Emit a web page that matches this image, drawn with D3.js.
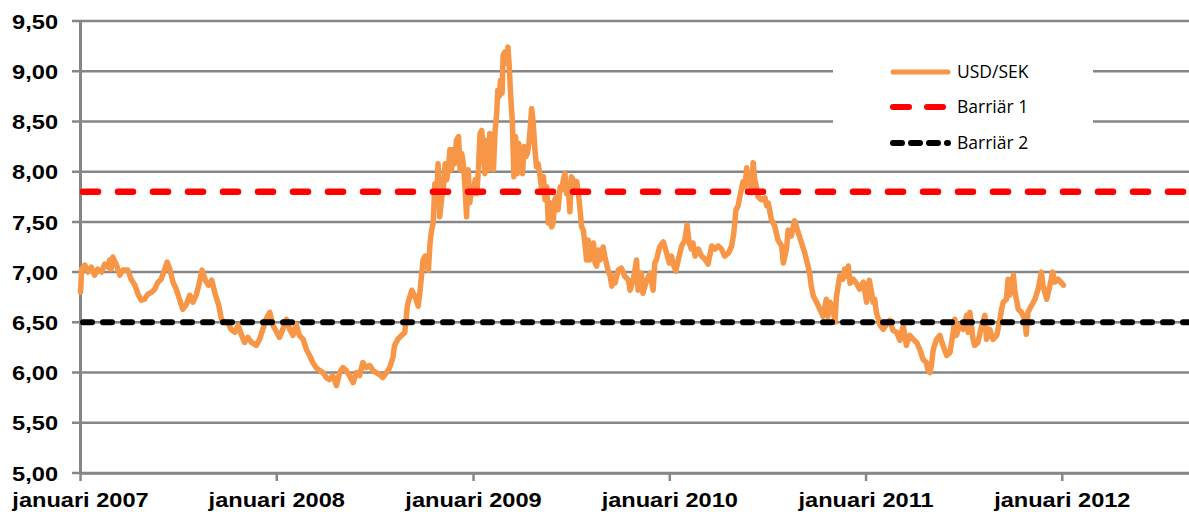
<!DOCTYPE html>
<html>
<head>
<meta charset="utf-8">
<script src="https://cdn.jsdelivr.net/npm/d3@7"></script>
<style>
  body { margin: 0; background: #fff; }
  svg { display: block; }
</style>
</head>
<body>
<svg width="1189" height="512"></svg>
<script>
const width = 1189;
const height = 512;

//--------------------data--------------------
const startDate = new Date(2007, 0, 1);
const endDate = new Date(2012, 8, 1);

// days after 2007-01-01
const dayOffsets = [
    1, 3, 9, 15, 21, 27, 33, 40, 46, 52, 55, 58, 61, 68, 74, 80, 89, 95, 102, 108, 114, 120, 126, 133, 139, 145,
    151, 157, 162, 167, 173, 179, 185, 191, 198, 204, 210, 216, 221, 227, 233, 239, 245, 252, 258, 263, 269, 275,
    281, 288, 294, 300, 306, 312, 319, 328, 334, 340, 346, 353, 359, 366, 371, 377, 384, 390, 396, 402, 408, 415,
    421, 427, 433, 439, 446, 452, 458, 464, 470, 477, 483, 489, 495, 501, 508, 514, 520, 526, 532, 539, 545, 551,
    557, 563, 570, 576, 582, 585, 591, 598, 604, 609,
    617, 623, 629, 632, 638, 642, 645, 648, 651, 654, 657, 660, 663, 666, 669, 673, 676, 679, 682, 685, 688, 691,
    694, 697, 700, 704, 707, 710, 713, 716, 719, 722, 725, 728, 731, 735, 738, 741, 744, 747, 750, 753, 756, 759,
    762, 766, 769, 772, 775, 777, 780, 782, 785, 787, 790, 793, 796, 798, 801, 804, 807, 810, 813, 816, 819, 823,
    826, 829, 832, 835, 838, 840, 843, 846, 849, 852, 855, 858, 862, 865, 868, 871, 874, 877, 880, 883, 886, 889,
    893, 896, 899, 902, 905, 908, 911, 914, 917, 920, 924, 927, 930, 933, 936, 939, 942, 945, 948, 951, 955, 958,
    961, 964, 967, 970, 973, 976, 979, 982, 986, 989, 992, 995, 1001, 1007, 1013, 1020, 1023, 1029, 1035, 1038,
    1041, 1044, 1047, 1054, 1060, 1066, 1069, 1072, 1078, 1085, 1091, 1096,
    1100, 1103, 1108, 1113, 1119, 1125, 1129, 1133, 1137, 1140, 1144, 1150, 1156, 1162, 1168, 1175, 1181, 1187,
    1193, 1199, 1206, 1212, 1216, 1220, 1224, 1227, 1230, 1233, 1237, 1240, 1243, 1246, 1249, 1252, 1255, 1258,
    1261, 1267, 1274, 1277, 1280, 1286, 1292, 1298, 1305, 1308, 1314, 1317, 1323, 1329, 1336, 1342, 1348, 1354,
    1357, 1360, 1364, 1370, 1376, 1382, 1388, 1391, 1395, 1401, 1404, 1407, 1413, 1419, 1422, 1426, 1429, 1432,
    1438, 1444, 1450,
    1457, 1463, 1468, 1472, 1475, 1478, 1481, 1485, 1488, 1494, 1500, 1506, 1512, 1519, 1525, 1531, 1537, 1543,
    1550, 1556, 1562, 1568, 1574, 1577, 1581, 1584, 1587, 1593, 1599, 1605, 1612, 1618, 1624, 1627, 1630, 1636,
    1643, 1649, 1652, 1655, 1661, 1664, 1670, 1677, 1683, 1686, 1692, 1698, 1705, 1711, 1714, 1717, 1723, 1726,
    1729, 1736, 1739, 1745, 1751, 1757, 1760, 1763, 1770, 1776, 1782, 1788, 1791, 1798, 1804, 1809, 1813, 1819,
    1829
];

const usdSek = [
    6.80, 7.03, 7.07, 7.00, 7.05, 6.97, 7.03, 7.00, 7.08, 7.05, 7.12, 7.03, 7.15, 7.07, 6.97, 7.02, 7.02, 6.93, 6.87, 6.78, 6.72, 6.73, 6.78, 6.80, 6.83, 6.90,
    6.93, 7.02, 7.10, 7.03, 6.90, 6.83, 6.73, 6.63, 6.68, 6.77, 6.70, 6.77, 6.87, 7.02, 6.92, 6.87, 6.92, 6.77, 6.67, 6.53, 6.50, 6.50,
    6.43, 6.40, 6.47, 6.38, 6.30, 6.35, 6.30, 6.27, 6.33, 6.43, 6.53, 6.60, 6.47, 6.40, 6.35, 6.43, 6.53, 6.43, 6.37, 6.48, 6.37, 6.33,
    6.23, 6.17, 6.10, 6.05, 6.02, 6.00, 5.95, 5.93, 5.97, 5.87, 6.00, 6.05, 6.02, 5.97, 5.90, 6.00, 5.97, 6.10, 6.05, 6.07, 6.02, 6.00,
    5.98, 5.95, 6.00, 6.05, 6.15, 6.27, 6.33, 6.37, 6.40, 6.67,
    6.82, 6.76, 6.66, 6.79, 7.12, 7.16, 7.06, 7.02, 7.29, 7.42, 7.49, 7.88, 7.69, 8.08, 7.55, 7.75, 7.85, 8.08, 7.92, 8.02, 8.22, 8.02,
    8.22, 8.08, 8.31, 8.35, 8.02, 8.18, 8.08, 7.85, 7.55, 8.02, 7.69, 7.85, 7.78, 7.92, 7.78, 8.02, 8.38, 8.41, 8.25, 7.98, 8.31, 8.02,
    8.38, 8.31, 8.02, 8.41, 8.58, 8.81, 8.75, 8.91, 8.78, 9.16, 9.19, 9.08, 9.24, 9.08, 8.75, 8.51, 7.95, 8.35, 7.98, 8.28, 8.15, 7.98,
    8.25, 8.15, 8.18, 8.28, 8.48, 8.63, 8.48, 8.22, 8.05, 8.08, 7.98, 7.85, 7.95, 7.72, 7.85, 7.49, 7.69, 7.45, 7.49, 7.72, 7.75, 7.62,
    7.85, 7.82, 7.92, 7.98, 7.78, 7.85, 7.60, 7.95, 7.92, 7.85, 7.90, 7.78, 7.62, 7.45, 7.42, 7.29, 7.12, 7.32, 7.12, 7.22, 7.29, 7.09,
    7.06, 7.22, 7.12, 7.19, 7.25, 7.16, 7.09, 7.02, 6.96, 6.86, 6.96, 6.89, 7.02, 7.04, 6.96, 6.92, 6.82, 6.92, 7.12, 6.82,
    6.86, 6.99, 6.79, 6.92, 6.99, 6.82, 7.09, 7.12, 7.25, 7.30, 7.19, 7.09,
    7.16, 7.08, 7.01, 7.13, 7.26, 7.32, 7.47, 7.29, 7.23, 7.29, 7.16, 7.23, 7.16, 7.13, 7.08, 7.26, 7.23, 7.26,
    7.23, 7.16, 7.19, 7.26, 7.39, 7.62, 7.66, 7.75, 7.82, 7.90, 7.85, 8.04, 7.89, 7.95, 7.79, 8.09, 7.92, 7.85,
    7.75, 7.72, 7.74, 7.66, 7.69, 7.52, 7.46, 7.32, 7.26, 7.09, 7.23, 7.42, 7.36, 7.51, 7.39, 7.29, 7.19, 7.06,
    6.99, 6.86, 6.76, 6.70, 6.63, 6.56, 6.73, 6.56, 6.70, 6.63, 6.50, 6.76, 6.96, 6.93, 7.03, 6.96, 7.06, 6.89,
    6.93, 6.89, 6.83,
    6.90, 6.70, 6.92, 6.80, 6.70, 6.73, 6.60, 6.53, 6.47, 6.43, 6.48, 6.52, 6.42, 6.40, 6.32, 6.47, 6.27, 6.37,
    6.33, 6.30, 6.23, 6.13, 6.10, 6.03, 6.00, 6.10, 6.23, 6.33, 6.37, 6.27, 6.17, 6.20, 6.40, 6.53, 6.37, 6.47,
    6.43, 6.57, 6.40, 6.60, 6.33, 6.27, 6.30, 6.47, 6.57, 6.33, 6.43, 6.33, 6.37, 6.53, 6.63, 6.70, 6.73, 6.93,
    6.77, 6.97, 6.80, 6.63, 6.60, 6.53, 6.38, 6.60, 6.67, 6.73, 6.83, 7.00, 6.87, 6.73, 6.87, 7.00, 6.90, 6.93,
    6.87
];

const barrier1 = 7.80;
const barrier2 = 6.50;

const yTicks = [5.0, 5.5, 6.0, 6.5, 7.0, 7.5, 8.0, 8.5, 9.0, 9.5];
const xTickYears = [2007, 2008, 2009, 2010, 2011, 2012];
const legendNames = ["USD/SEK", "Barriär 1", "Barriär 2"];

//--------------------scales--------------------
const plotLeft = 80, plotRight = 1193, plotTop = 21, plotBottom = 473;
const gridColor = "#868686";
const stretch = 1.18; // labels in the picture are drawn a bit wide

const svg = d3.select("svg");

const x = d3.scaleTime()
    .domain([startDate, endDate])
    .range([plotLeft, plotRight]);

const y = d3.scaleLinear()
    .domain([5, 9.5])
    .range([plotBottom, plotTop]);

const series = dayOffsets.map((d, i) => ({ date: d3.timeDay.offset(startDate, d), value: usdSek[i] }));

//--------------------grid--------------------
svg.append("g")
    .selectAll("line")
    .data(yTicks)
    .join("line")
    .attr("x1", plotLeft - 8)
    .attr("x2", width)
    .attr("y1", d => y(d))
    .attr("y2", d => y(d))
    .attr("stroke", gridColor)
    .attr("stroke-width", 2.5);

//--------------------axes--------------------
const yAxis = svg.append("g")
    .attr("transform", "translate(" + plotLeft + ",0)")
    .call(d3.axisLeft(y)
        .tickValues(yTicks)
        .tickSize(0)
        .tickSizeOuter(0)
        .tickFormat(d => d3.format(".2f")(d).replace(".", ",")));

yAxis.select(".domain")
    .attr("stroke", gridColor)
    .attr("stroke-width", 3);

yAxis.selectAll("text")
    .attr("x", -22 / stretch)
    .attr("dy", "0.36em")
    .attr("transform", "scale(" + stretch + ",1)")
    .attr("fill", "#000")
    .style("font-family", "'Liberation Sans', Arial, sans-serif")
    .style("font-weight", "bold")
    .style("font-size", "20px");

const xAxis = svg.append("g")
    .attr("transform", "translate(0," + plotBottom + ")")
    .call(d3.axisBottom(x)
        .tickValues(xTickYears.map(yr => new Date(yr, 0, 1)))
        .tickSize(8)
        .tickSizeOuter(0)
        .tickFormat(d => "januari " + d.getFullYear()));

xAxis.select(".domain")
    .attr("stroke", gridColor)
    .attr("stroke-width", 2.5);

xAxis.selectAll(".tick line")
    .attr("stroke", gridColor)
    .attr("stroke-width", 2.5);

xAxis.selectAll("text")
    .attr("y", 34.5)
    .attr("dy", 0)
    .attr("transform", "scale(" + stretch + ",1)")
    .attr("fill", "#000")
    .style("font-family", "'Liberation Sans', Arial, sans-serif")
    .style("font-weight", "bold")
    .style("font-size", "20px");

//--------------------USD/SEK line--------------------
const line = d3.line()
    .x(d => x(d.date))
    .y(d => y(d.value));

svg.append("path")
    .datum(series)
    .attr("d", line)
    .attr("fill", "none")
    .attr("stroke", "#F79646")
    .attr("stroke-width", 5.5)
    .attr("stroke-linejoin", "round")
    .attr("stroke-linecap", "round");

//--------------------barriers--------------------
const barrierStyles = [
    { value: barrier1, color: "#FF0000", dash: "15,20", w: 6.5 },
    { value: barrier2, color: "#000000", dash: "9,11", w: 6 }
];

svg.append("g")
    .selectAll("line")
    .data(barrierStyles)
    .join("line")
    .attr("x1", plotLeft + 3)
    .attr("x2", width + 10)
    .attr("y1", d => y(d.value))
    .attr("y2", d => y(d.value))
    .attr("stroke", d => d.color)
    .attr("stroke-width", d => d.w)
    .attr("stroke-dasharray", d => d.dash)
    .attr("stroke-linecap", "round");

//--------------------legend--------------------
const legendStyles = [
    { color: "#F79646", dash: null, w: 5 },
    { color: "#FF0000", dash: "16,18", w: 6 },
    { color: "#000000", dash: "9,9", w: 6 }
];

const legend = svg.append("g");

legend.append("rect")
    .attr("x", 833)
    .attr("y", 46)
    .attr("width", 260)
    .attr("height", 118)
    .attr("fill", "#fff");

const item = legend.selectAll("g.item")
    .data(legendNames)
    .join("g")
    .attr("class", "item")
    .attr("transform", (d, i) => "translate(0," + [72, 107, 143][i] + ")");

item.append("line")
    .attr("x1", 893)
    .attr("x2", 948)
    .attr("stroke", (d, i) => legendStyles[i].color)
    .attr("stroke-width", (d, i) => legendStyles[i].w)
    .attr("stroke-dasharray", (d, i) => legendStyles[i].dash)
    .attr("stroke-linecap", "round");

item.append("text")
    .attr("x", 957)
    .attr("dy", "0.35em")
    .attr("fill", "#000")
    .style("font-family", "'Open Sans', sans-serif")
    .style("font-size", "17.5px")
    .text(d => d);
</script>
</body>
</html>
